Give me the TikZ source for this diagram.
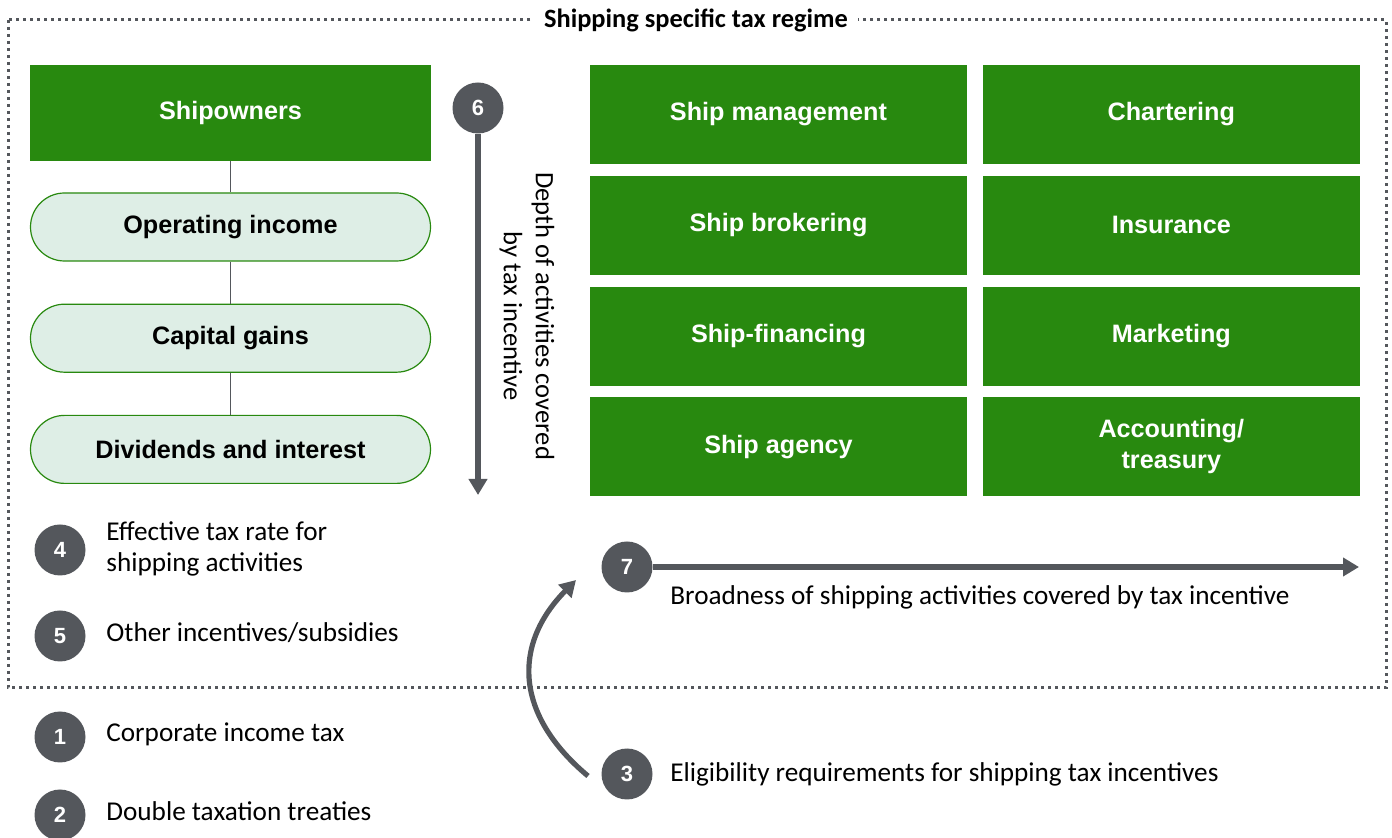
\documentclass[tikz,border=0pt]{standalone}
\usepackage{fontspec}
\setmainfont{Carlito}
\newfontfamily\arialfont{Liberation Sans}
\usetikzlibrary {arrows.meta,
                 positioning}
\definecolor{taxgreen}{RGB}{40,137,15}
\definecolor{pillfill}{RGB}{222,238,230}
\definecolor{markgray}{RGB}{84,87,92}
\tikzset{
        base/.style={align=center, inner sep=0pt,
                     font=\arialfont\bfseries\fontsize{12.6}{15.5}\selectfont},
        act/.style={base, rectangle, fill=taxgreen, text=white,
                     minimum width=188.5pt, minimum height=49.5pt},
        owner/.style={act, minimum width=200.5pt, minimum height=48pt},
        income/.style={base, rectangle, rounded corners=17pt, draw=taxgreen,
                       fill=pillfill, line width=0.6pt,
                       minimum width=200pt, minimum height=34pt},
        num/.style={circle, fill=markgray, text=white, minimum size=25.5pt,
                    inner sep=0pt, font=\arialfont\bfseries\fontsize{11}{13}\selectfont},
        note/.style={anchor=west, align=left, inner sep=0pt,
                     font=\fontsize{13.6}{15.5}\selectfont},
        link/.style={draw=markgray, line width=0.7pt},
        myarrow/.style={-{Triangle[length=8pt,width=9pt]}, line width=2.6pt,
                        draw=markgray},
 }

\begin{document}
\begin{tikzpicture}[x=0.5pt, y=-0.5pt]
    \useasboundingbox (0,0) rectangle (1392,838);

    % regime frame
    \draw[markgray, line width=1.5pt, dash pattern=on 1.5pt off 2pt]
        (8,20) rectangle (1386,688);
    \node[fill=white, inner xsep=5pt, font=\bfseries\fontsize{13.2}{15}\selectfont]
        (regime) at (696,20) {Shipping specific tax regime};

    % income types
    \node[owner] (owners) at (230.5,113) {Shipowners};
    \node[income, below=15.5pt of owners] (op) {Operating income};
    \node[income, below=21pt of op] (cap) {Capital gains};
    \node[income, below=21pt of cap] (div) {Dividends and interest};

    \draw[link] (owners) -- (op);
    \draw[link] (op) -- (cap);
    \draw[link] (cap) -- (div);

    % activities
    \node[act] (mgmt) at (778.5,114.5) {Ship management};
    \node[act, right=7.5pt of mgmt] (charter) {Chartering};
    \node[act, below=5.5pt of mgmt] (broker) {Ship brokering};
    \node[act, right=7.5pt of broker] (insur) {Insurance};
    \node[act, below=5.5pt of broker] (fin) {Ship-financing};
    \node[act, right=7.5pt of fin] (market) {Marketing};
    \node[act, below=5.5pt of fin] (agency) {Ship agency};
    \node[act, right=7.5pt of agency] (acct) {Accounting/\\treasury};

    % depth axis
    \node[num] (n6) at (478,108) {6};
    \coordinate (depthEnd) at (478,495);
    \draw[myarrow] (n6) -- (depthEnd);
    \node[rotate=-90, align=center, font=\fontsize{13.3}{16}\selectfont]
        (depth) at (527,316) {Depth of activities covered\\by tax incentive};

    % broadness axis
    \node[num] (n7) at (627,567) {7};
    \coordinate (broadEnd) at (1359,567);
    \draw[myarrow] (n7) -- (broadEnd);
    \node[note] (broad) at (670,597)
        {Broadness of shipping activities covered by tax incentive};

    % eligibility
    \node[num] (n3) at (627,774) {3};
    \node[note] (elig) at (670,774)
        {Eligibility requirements for shipping tax incentives};
    \coordinate (eligTail) at (588,776);
    \coordinate (eligHead) at (576,580);
    \draw[myarrow] (eligTail) .. controls (515,715) and (512,645) .. (eligHead);

    % other factors
    \node[num] (n4) at (60,550) {4};
    \node[note] (rate) at (106,549) {Effective tax rate for\\shipping activities};
    \node[num] (n5) at (60,636) {5};
    \node[note] (other) at (106,633) {Other incentives/subsidies};
    \node[num] (n1) at (60,737) {1};
    \node[note] (cit) at (106,734) {Corporate income tax};
    \node[num] (n2) at (60,815) {2};
    \node[note] (dtt) at (106,811) {Double taxation treaties};
\end{tikzpicture}
\end{document}
